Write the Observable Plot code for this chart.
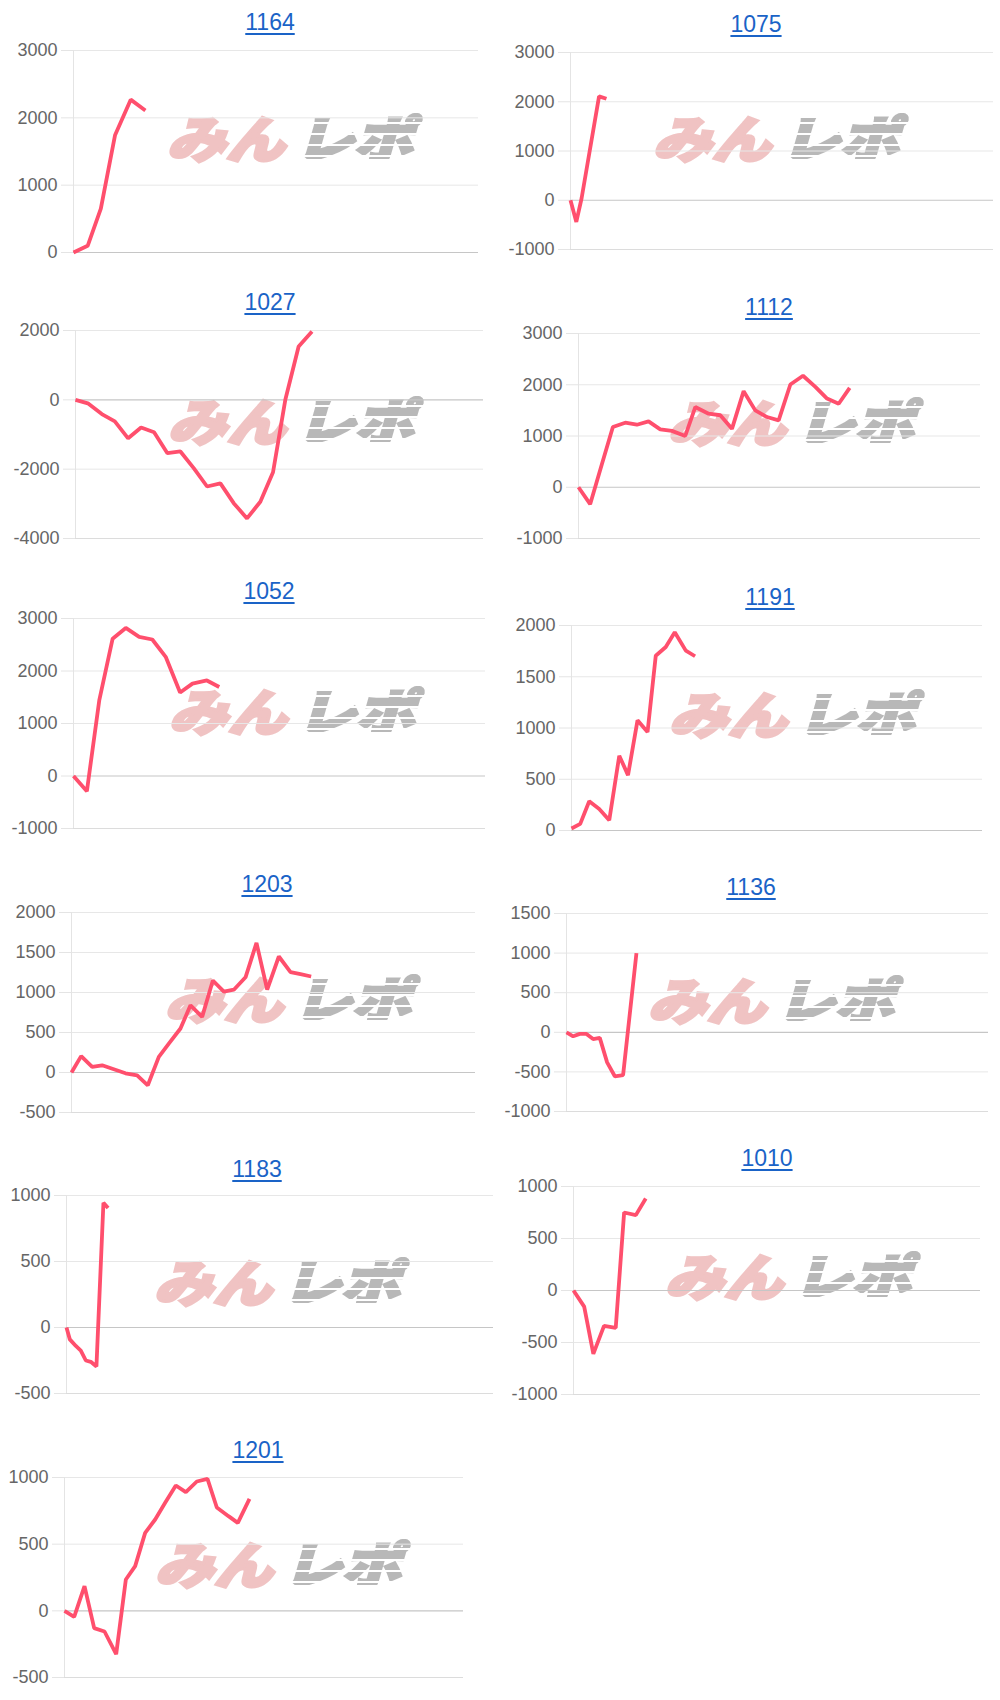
<!DOCTYPE html>
<html><head><meta charset="utf-8">
<script src="https://cdn.jsdelivr.net/npm/d3@7"></script>
<script src="https://cdn.jsdelivr.net/npm/@observablehq/plot@0.6"></script>
<style>
html,body{margin:0;padding:0;background:#fff;}
#root{position:relative;width:1000px;height:1700px;overflow:hidden;font-family:"Liberation Sans",Arial,Helvetica,sans-serif;}
.title{position:absolute;transform:translateX(-50%);font-size:23px;line-height:1;color:#1a63c7;text-decoration:underline;text-decoration-thickness:2px;text-underline-offset:3px;white-space:nowrap;}
.wm{position:absolute;width:250px;height:46px;white-space:nowrap;font-family:"Noto Sans CJK JP",sans-serif;font-weight:900;font-size:50px;line-height:46px;transform:skewX(-16deg);}
.wm span{display:inline-block;transform:scaleX(1.18);transform-origin:left center;}
.wm .m{color:#f0c3c3;width:128px;-webkit-text-stroke:3px #f0c3c3;}
.wm .r{color:transparent;-webkit-text-stroke:3px transparent;background:repeating-linear-gradient(to bottom,#b8b8b8 0 9px,rgba(255,255,255,0) 9px 11px);-webkit-background-clip:text;background-clip:text;}
.panel{position:absolute;}
</style></head><body><div id="root"></div>
<script>
// ---- data ----
const machines = ["1164","1075","1027","1112","1052","1191","1203","1136","1183","1010","1201"];

const games1164 = [0,280,540,820,1130,1420];
const diff1164  = [0,100,650,1740,2270,2110];
const ticks1164 = [0,1000,2000,3000];

const games1075 = [0,110,210,540,680];
const diff1075  = [0,-440,40,2110,2060];
const ticks1075 = [-1000,0,1000,2000,3000];

const games1027 = [0,242,516,771,1032,1286,1541,1802,2057,2318,2580,2841,3102,3363,3624,3873,4114,4375,4637];
const diff1027  = [0,-100,-410,-620,-1110,-800,-935,-1540,-1490,-1970,-2500,-2410,-2980,-3420,-2940,-2090,0,1540,1970];
const ticks1027 = [-4000,-2000,0,2000];

const games1112 = [0,232,465,684,930,1162,1394,1627,1859,2124,2324,2589,2822,3054,3286,3518,3751,3983,4216,4468,4714,4946,5178,5397];
const diff1112  = [0,-330,450,1175,1260,1220,1285,1130,1100,1000,1565,1435,1405,1140,1875,1500,1370,1305,2005,2175,1960,1730,1630,1940];
const ticks1112 = [-1000,0,1000,2000,3000];

const games1052 = [0,260,500,760,1015,1275,1530,1790,2070,2310,2590,2830];
const diff1052  = [0,-290,1440,2615,2820,2650,2600,2270,1590,1760,1820,1695];
const ticks1052 = [-1000,0,1000,2000,3000];

const games1191 = [0,170,345,540,735,930,1100,1285,1480,1640,1835,2010,2225,2405];
const diff1191  = [20,65,285,210,100,730,540,1075,960,1705,1790,1935,1755,1700];
const ticks1191 = [0,500,1000,1500,2000];

const games1203 = [0,191,409,607,838,1069,1300,1511,1729,1927,2158,2356,2587,2799,3017,3215,3446,3663,3875,4106,4337,4535,4746];
const diff1203  = [0,205,70,90,40,-10,-35,-160,195,360,550,840,695,1150,1010,1035,1190,1620,1035,1450,1255,1230,1200];
const ticks1203 = [-500,0,500,1000,1500,2000];

const games1136 = [0,126,253,379,505,631,770,916,1073,1326];
const diff1136  = [0,-50,-20,-20,-85,-70,-380,-555,-540,1000];
const ticks1136 = [-1000,-500,0,500,1000,1500];

const games1183 = [0,62,175,268,362,455,561,692,779];
const diff1183  = [0,-90,-140,-175,-250,-260,-295,945,905];
const ticks1183 = [-500,0,500,1000];

const games1010 = [0,210,390,600,830,995,1225,1420];
const diff1010  = [0,-155,-610,-340,-360,750,725,885];
const ticks1010 = [-1000,-500,0,500,1000];

const games1201 = [0,194,401,595,802,1036,1230,1417,1617,1818,2018,2232,2433,2653,2867,3054,3288,3475,3709];
const diff1201  = [0,-45,185,-130,-155,-325,235,335,585,685,810,940,890,970,990,775,710,660,840];
const ticks1201 = [-500,0,500,1000];

const XMAX = 8000;

// ---- layout (pixels) ----
const layout = {
  "1164": {L:73,  R:478, top:50,   bottom:252,  tx:270, tb:30,   wx:295, wy:137},
  "1075": {L:570, R:993, top:52,   bottom:249,  tx:756, tb:32,   wx:781, wy:137},
  "1027": {L:75,  R:483, top:330,  bottom:538,  tx:270, tb:310,  wx:296, wy:420},
  "1112": {L:578, R:980, top:333,  bottom:538,  tx:769, tb:315,  wx:796, wy:421},
  "1052": {L:73,  R:485, top:618,  bottom:828,  tx:269, tb:599,  wx:297, wy:710},
  "1191": {L:571, R:982, top:625,  bottom:830,  tx:770, tb:605,  wx:797, wy:713},
  "1203": {L:71,  R:475, top:912,  bottom:1112, tx:267, tb:892,  wx:293, wy:998},
  "1136": {L:566, R:988, top:913,  bottom:1111, tx:751, tb:895,  wx:776, wy:999},
  "1183": {L:66,  R:493, top:1195, bottom:1393, tx:257, tb:1177, wx:282, wy:1281},
  "1010": {L:573, R:980, top:1186, bottom:1394, tx:767, tb:1166, wx:793, wy:1275},
  "1201": {L:64,  R:463, top:1477, bottom:1677, tx:258, tb:1458, wx:283, wy:1563}
};

const series = {
  "1164": [games1164, diff1164, ticks1164],
  "1075": [games1075, diff1075, ticks1075],
  "1027": [games1027, diff1027, ticks1027],
  "1112": [games1112, diff1112, ticks1112],
  "1052": [games1052, diff1052, ticks1052],
  "1191": [games1191, diff1191, ticks1191],
  "1203": [games1203, diff1203, ticks1203],
  "1136": [games1136, diff1136, ticks1136],
  "1183": [games1183, diff1183, ticks1183],
  "1010": [games1010, diff1010, ticks1010],
  "1201": [games1201, diff1201, ticks1201]
};

const root = document.getElementById("root");
const PAD = 14;

for (const name of machines) {
  const p = layout[name];
  const [games, diffs, ticks] = series[name];
  const data = games.map((g, i) => ({g, v: diffs[i]}));
  const ymin = d3.min(ticks), ymax = d3.max(ticks);
  const colX = p.L < 500 ? 0 : 500;

  // watermark (behind the chart)
  const wm = document.createElement("div");
  wm.className = "wm";
  wm.style.left = (p.wx - 122) + "px";
  wm.style.top = (p.wy - 24) + "px";
  wm.innerHTML = '<span class="m">みん</span><span class="r">レポ</span>';
  root.appendChild(wm);

  const chart = Plot.plot({
    width: 500,
    height: (p.bottom - p.top) + 2 * PAD,
    marginLeft: p.L - colX,
    marginRight: colX + 500 - p.R,
    marginTop: PAD,
    marginBottom: PAD,
    style: {background: "transparent", overflow: "visible", fontFamily: "Liberation Sans, Arial, sans-serif"},
    x: {domain: [0, XMAX], axis: null},
    y: {domain: [ymin, ymax], label: null},
    marks: [
      Plot.ruleY(ticks.filter(t => t !== 0 && t !== ymin), {stroke: "#e7e7e7", strokeWidth: 1}),
      Plot.ruleY([ymin].filter(t => t !== 0), {stroke: "#dcdcdc", strokeWidth: 1}),
      Plot.ruleX([0], {stroke: "#e4e4e4", strokeWidth: 1}),
      Plot.ruleY([0], {stroke: "#c6c6c6", strokeWidth: 1.2}),
      Plot.axisY(ticks, {tickSize: 12, tickPadding: 4, stroke: "#e4e4e4", fill: "#666", fontSize: 18, tickFormat: d => String(d), label: null}),
      Plot.line(data, {x: "g", y: "v", stroke: "#ff4f6d", strokeWidth: 3.8, strokeLinejoin: "miter", strokeLinecap: "butt"})
    ]
  });
  chart.classList.add("panel");
  chart.style.left = colX + "px";
  chart.style.top = (p.top - PAD) + "px";
  root.appendChild(chart);

  const t = document.createElement("a");
  t.className = "title";
  t.href = "#";
  t.textContent = name;
  t.style.left = p.tx + "px";
  t.style.top = (p.tb - 19.5) + "px";
  root.appendChild(t);
}
</script>
</body></html>
